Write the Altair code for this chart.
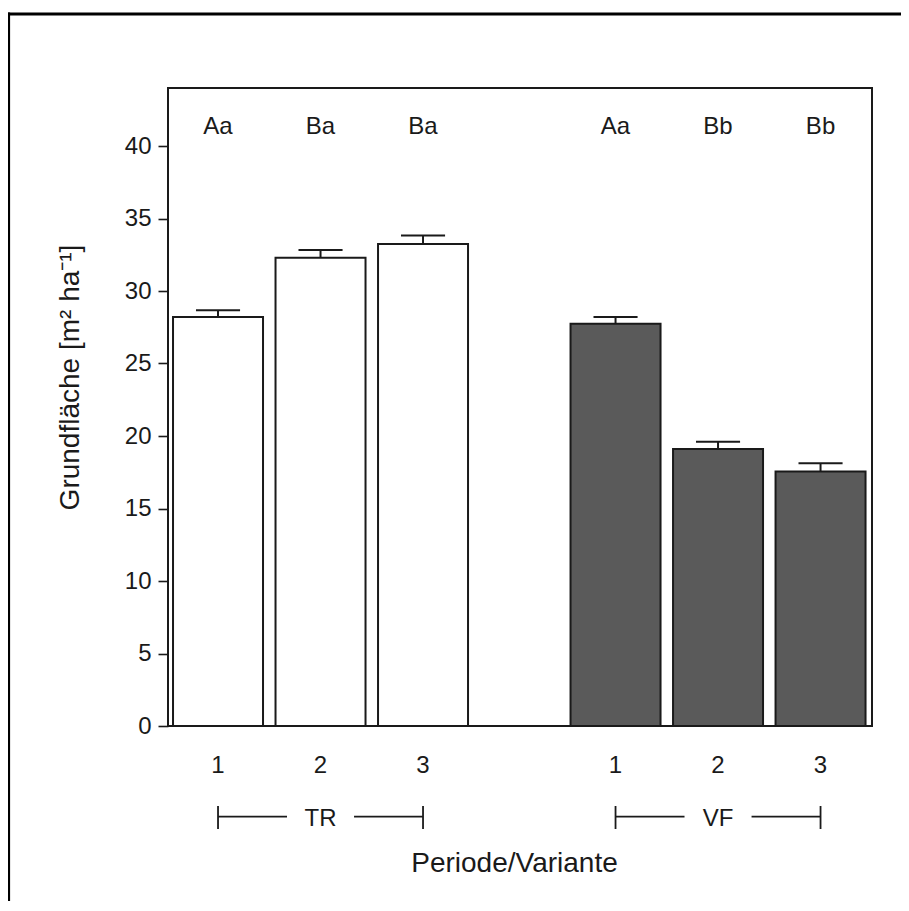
import altair as alt
import pandas as pd

# ---- data ----
variante = ["TR", "TR", "TR", "VF", "VF", "VF"]
periode = [1, 2, 3, 1, 2, 3]
grundflaeche = [28.2, 32.3, 33.25, 27.75, 19.1, 17.55]
se = [0.48, 0.52, 0.58, 0.45, 0.5, 0.57]
letters = ["Aa", "Ba", "Ba", "Aa", "Bb", "Bb"]

df = pd.DataFrame({
    "Variante": variante,
    "Periode": periode,
    "value": grundflaeche,
    "se": se,
    "letter": letters,
})

FONT = "Liberation Sans"
INK = "#1a1a1a"

xscale = alt.Scale(domain=[0.512, 7.38], nice=False, zero=False)
xaxis = alt.Axis(
    title="Periode/Variante", labels=False, ticks=False, domain=False, grid=False,
    titleFontSize=28, titleFontWeight="normal", titleFont=FONT, titleColor=INK,
    titleX=346, titleY=145, titleBaseline="alphabetic", titleAlign="center",
)
yscale = alt.Scale(domain=[0, 44], nice=False, zero=True)
yaxis = alt.Axis(
    title="Grundfläche [m² ha⁻¹]", values=list(range(0, 45, 5)), grid=False, domain=False,
    tickSize=10, tickWidth=1.6, tickColor=INK, labelPadding=7,
    labelFontSize=24, labelFont=FONT, labelColor=INK,
    titleFontSize=28, titleFontWeight="normal", titleFont=FONT, titleColor=INK,
    titleAngle=270, titleX=-90, titleY=289, titleBaseline="alphabetic", titleAlign="center",
)

def X(field):
    return alt.X(field, scale=xscale, axis=xaxis)

def Y(field):
    return alt.Y(field, scale=yscale, axis=yaxis)

base = alt.Chart(df).transform_calculate(
    pos="datum.Periode + (datum.Variante == 'VF' ? 3.878 : 0)"
).transform_calculate(
    upper="datum.value + datum.se",
    bl="datum.pos - 0.439",
    br="datum.pos + 0.439",
    cl="datum.pos - 0.215",
    cr="datum.pos + 0.215",
)

bars = base.mark_bar(stroke=INK, strokeWidth=2).encode(
    x=X("bl:Q"), x2="br:Q",
    y=Y("value:Q"), y2=alt.datum(0),
    fill=alt.Fill("Variante:N", scale=alt.Scale(domain=["TR", "VF"], range=["#ffffff", "#5a5a5a"]), legend=None),
)

err_v = base.mark_rule(color=INK, strokeWidth=2).encode(
    x=X("pos:Q"), y=Y("value:Q"), y2="upper:Q",
)
err_cap = base.mark_rule(color=INK, strokeWidth=2).encode(
    x=X("cl:Q"), x2="cr:Q", y=Y("upper:Q"),
)

letter_txt = base.mark_text(font=FONT, fontSize=24, color=INK, baseline="alphabetic", align="center").encode(
    x=X("pos:Q"), y=alt.value(46), text="letter:N",
)

tick_txt = base.mark_text(font=FONT, fontSize=24, color=INK, baseline="alphabetic", align="center").encode(
    x=X("pos:Q"), y=alt.value(685), text="Periode:N",
)

grp = base.transform_aggregate(
    start="min(pos)", end="max(pos)", groupby=["Variante"]
).transform_calculate(
    mid="(datum.start + datum.end) / 2",
    a="(datum.start + datum.end) / 2 - 0.327",
    b="(datum.start + datum.end) / 2 + 0.327",
)

br_left = grp.mark_rule(color=INK, strokeWidth=1.8).encode(
    x=X("start:Q"), x2="a:Q", y=alt.value(728.7))
br_right = grp.mark_rule(color=INK, strokeWidth=1.8).encode(
    x=X("b:Q"), x2="end:Q", y=alt.value(728.7))
br_t1 = grp.mark_rule(color=INK, strokeWidth=1.8).encode(
    x=X("start:Q"), y=alt.value(718), y2=alt.value(741))
br_t2 = grp.mark_rule(color=INK, strokeWidth=1.8).encode(
    x=X("end:Q"), y=alt.value(718), y2=alt.value(741))
br_txt = grp.mark_text(font=FONT, fontSize=24, color=INK, baseline="alphabetic", align="center").encode(
    x=X("mid:Q"), y=alt.value(737.7), text="Variante:N")

frame_src = alt.Data(values=[{"k": 0}])
border_left = alt.Chart(frame_src).mark_rule(color="#000000", strokeWidth=2.8).encode(
    x=alt.value(-159.3), y=alt.value(-75.4), y2=alt.value(900))
border_top = alt.Chart(frame_src).mark_rule(color="#000000", strokeWidth=2.8).encode(
    x=alt.value(-160.7), x2=alt.value(1000), y=alt.value(-74))

chart = alt.layer(
    bars, err_v, err_cap, letter_txt, tick_txt,
    br_left, br_right, br_t1, br_t2, br_txt,
    border_left, border_top,
).properties(
    width=704, height=638,
    autosize=alt.AutoSizeParams(type="none"),
    padding={"left": 160, "top": 80, "right": 29, "bottom": 175},
).configure(
    background="white", font=FONT,
).configure_view(
    stroke=INK, strokeWidth=2,
)

chart.save("out.html", embed_options={"renderer": "svg", "actions": False})
